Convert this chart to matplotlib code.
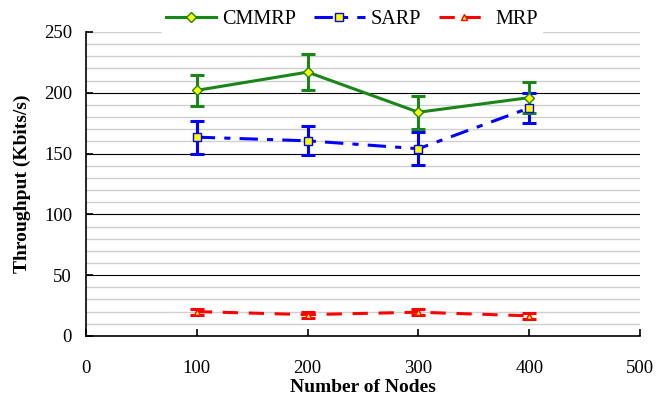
import numpy as np
import matplotlib.pyplot as plt
from matplotlib.ticker import MultipleLocator

plt.rcParams['font.family'] = ['Liberation Serif', 'DejaVu Serif']

nodes = [100, 200, 300, 400]

cmmrp = [202, 217, 184, 196]
cmmrp_err = [12.5, 15, 13.5, 13]

sarp = [163.5, 160.5, 154, 187.5]
sarp_err = [13.5, 12, 13.5, 12]

mrp = [20, 17.5, 19.5, 16.5]
mrp_err = [2.5, 2.5, 2.5, 2.5]

green = '#1a861a'
blue = '#0000ff'
red = '#ff0000'
yellow = '#ffff00'

fig = plt.figure(figsize=(6.6, 3.98), dpi=100)
ax = fig.add_axes([0.1303, 0.156, 0.8394, 0.7636])

lw = 2.2
# error bars first, then lines with markers on top
ax.errorbar(nodes, mrp, yerr=mrp_err, fmt='none', ecolor=red, elinewidth=lw,
            capsize=5, capthick=lw, zorder=3)
ax.errorbar(nodes, sarp, yerr=sarp_err, fmt='none', ecolor=blue, elinewidth=lw,
            capsize=5, capthick=lw, zorder=3)
ax.errorbar(nodes, cmmrp, yerr=cmmrp_err, fmt='none', ecolor=green, elinewidth=lw,
            capsize=5, capthick=lw, zorder=4)

ax.plot(nodes, mrp, color=red, lw=lw, dashes=(5, 3.5), marker='^', ms=5,
        mfc=yellow, mec=red, mew=1, label='MRP', zorder=5)
ax.plot(nodes, sarp, color=blue, lw=lw, dashes=(6, 3, 2, 3), marker='s', ms=6,
        mfc=yellow, mec=blue, mew=1, label='SARP', zorder=5)
ax.plot(nodes, cmmrp, color=green, lw=lw, marker='D', ms=5,
        mfc=yellow, mec=green, mew=1, label='CMMRP', zorder=6)

ax.set_xlim(0, 500)
ax.set_ylim(0, 250)
ax.xaxis.set_major_locator(MultipleLocator(100))
ax.yaxis.set_major_locator(MultipleLocator(50))
ax.yaxis.set_minor_locator(MultipleLocator(10))

ax.grid(axis='y', which='minor', color='#d0d0d0', lw=1.0, zorder=0)
ax.grid(axis='y', which='major', color='black', lw=0.8, zorder=1)
ax.set_axisbelow(True)

for s in ['top', 'right']:
    ax.spines[s].set_visible(False)
for s in ['left', 'bottom']:
    ax.spines[s].set_linewidth(1.2)

ax.tick_params(axis='both', which='major', direction='in', length=5, width=1.2,
               labelsize=13.5)
ax.tick_params(axis='x', pad=17)
ax.tick_params(axis='y', pad=10)
ax.tick_params(axis='y', which='minor', length=0)

# top line at 250 is a light one in the original
fig.canvas.draw()
for t in ax.yaxis.get_major_ticks():
    if abs(t.get_loc() - 250) < 1e-6:
        t.gridline.set_color('#d0d0d0')
        t.gridline.set_linewidth(1.0)

ax.set_xlabel('Number of Nodes', fontsize=14, fontweight='bold', labelpad=2)
ax.set_ylabel('Throughput (Kbits/s)', fontsize=14, fontweight='bold', labelpad=9)

h, l = ax.get_legend_handles_labels()
leg = ax.legend(h[::-1], l[::-1], loc='center', bbox_to_anchor=(0.48, 1.04),
                ncol=3, fontsize=14.5, frameon=True, facecolor='white',
                edgecolor='white', framealpha=1, fancybox=False,
                handlelength=2.5, handletextpad=0.3, columnspacing=0.9,
                borderpad=0.2)

fig.savefig('out.png', dpi=100)
